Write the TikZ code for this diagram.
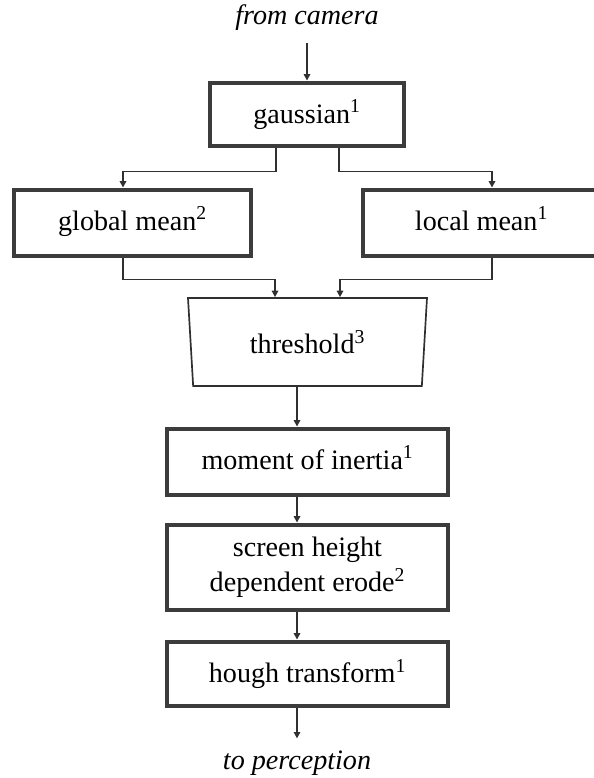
\documentclass[tikz,border=0pt]{standalone}
\usepackage{fontspec}
\setmainfont{Liberation Serif}
\usetikzlibrary{arrows.meta,shapes.geometric}
\definecolor{boxgray}{HTML}{3C3C3C}
\definecolor{linegray}{HTML}{303030}
\newcommand{\lab}{\fontsize{20}{25}\selectfont}
\begin{document}
\begin{tikzpicture}[scale=1,
    box/.style={rectangle,draw=boxgray,line width=3.5pt,minimum width=7.025cm,minimum height=1.65cm,align=center,font=\lab},
    trap/.style={trapezium,draw=linegray,line width=1.2pt,trapezium angle=77.8,shape border rotate=180,trapezium stretches body,minimum width=5.975cm,minimum height=2.2cm,inner sep=0pt,font=\lab},
    term/.style={inner sep=0.3cm,font=\lab\itshape},
    flow/.style={-{Triangle[length=1.6mm,width=1.6mm]},draw=linegray,line width=1.2pt}]
    \useasboundingbox (0,0) rectangle (14.825,19.45);
    % Nodes
    \node[term] (cam) at (7.675,19.0) {from camera};
    \node[box,minimum width=4.85cm,minimum height=1.575cm] (gaus) at (7.675,16.5875) {gaussian\textsuperscript{1}};
    \node[box,minimum width=5.925cm] (glob) at (3.3125,13.875) {\strut global mean\textsuperscript{2}};
    \node[box,minimum width=5.925cm] (loc) at (12.0375,13.875) {\strut local mean\textsuperscript{1}};
    \node[trap] (thresh) at (7.6875,10.9) {threshold\textsuperscript{3}};
    \node[box] (mom) at (7.6875,7.9) {\strut moment of inertia\textsuperscript{1}};
    \node[box,minimum height=2.125cm] (scr) at (7.6875,5.2625) {screen height\\dependent erode\textsuperscript{2}};
    \node[box,minimum height=1.6cm] (hough) at (7.6875,2.6) {hough transform\textsuperscript{1}};
    \node[term] (perc) at (7.425,0.375) {to perception};
    % Edges
    \draw[flow] (cam.south) -- (gaus.north);
    \draw[flow] ([xshift=-0.775cm]gaus.south) -- ++(0,-0.575) -| ([xshift=-0.2375cm]glob.north);
    \draw[flow] ([xshift=0.8cm]gaus.south) -- ++(0,-0.575) -| ([xshift=0.2625cm]loc.north);
    \draw[flow] ([xshift=-0.2375cm]glob.south) -- ++(0,-0.525) -| ([xshift=-0.8125cm]thresh.north);
    \draw[flow] ([xshift=0.2625cm]loc.south) -- ++(0,-0.525) -| ([xshift=0.8125cm]thresh.north);
    \draw[flow] ([xshift=-0.2625cm]thresh.south) -- ([xshift=-0.2625cm]mom.north);
    \draw[flow] ([xshift=-0.2625cm]mom.south) -- ([xshift=-0.2625cm]scr.north);
    \draw[flow] ([xshift=-0.2625cm]scr.south) -- ([xshift=-0.2625cm]hough.north);
    \draw[flow] ([xshift=-0.2625cm]hough.south) -- (perc.north);
\end{tikzpicture}
\end{document}
